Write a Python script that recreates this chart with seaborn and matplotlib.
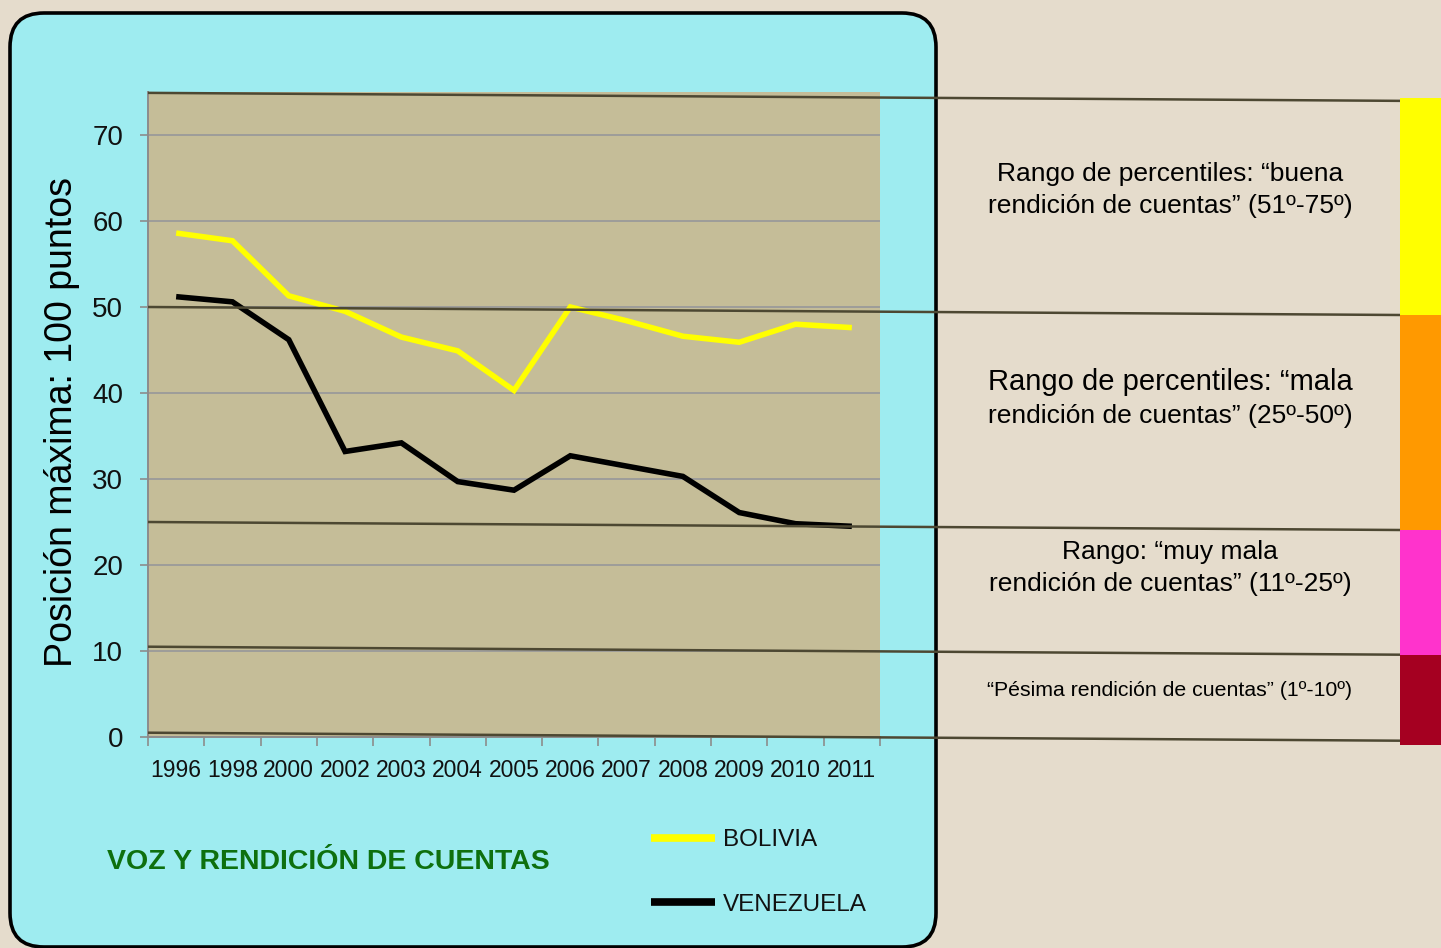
import numpy as np
import pandas as pd
import matplotlib
matplotlib.use("Agg")
import matplotlib.pyplot as plt
import seaborn as sns
from matplotlib.patches import FancyBboxPatch, Rectangle

# ---------------- data ----------------
years = ["1996", "1998", "2000", "2002", "2003", "2004", "2005",
         "2006", "2007", "2008", "2009", "2010", "2011"]
bolivia = [58.6, 57.7, 51.3, 49.5, 46.5, 44.9, 40.3, 50.0, 48.4, 46.6, 45.9, 48.0, 47.6]
venezuela = [51.2, 50.6, 46.2, 33.2, 34.2, 29.7, 28.7, 32.7, 31.5, 30.3, 26.1, 24.8, 24.5]
countries = ["BOLIVIA", "VENEZUELA"]
y_ticks = [0, 10, 20, 30, 40, 50, 60, 70]
# where the percentile divider lines meet the value axis
band_limits = [74.9, 50.0, 25.0, 10.5, 0.5]
band_colors = ["#ffff00", "#ff9900", "#ff33cc", "#a50021"]
band_texts = [
    ["Rango de percentiles: \u201cbuena", "rendición de cuentas\u201d (51º-75º)"],
    ["Rango de percentiles: \u201cmala", "rendición de cuentas\u201d (25º-50º)"],
    ["Rango: \u201cmuy mala", "rendición de cuentas\u201d (11º-25º)"],
    ["\u201cPésima rendición de cuentas\u201d (1º-10º)"],
]
title = "VOZ Y RENDICIÓN DE CUENTAS"
ylabel = "Posición máxima: 100 puntos"

df = pd.DataFrame({
    "Año": years * 2,
    "Valor": bolivia + venezuela,
    "País": [countries[0]] * len(years) + [countries[1]] * len(years),
})

# ---------------- figure ----------------
W, H = 1441, 948
SANS = ["Liberation Sans", "DejaVu Sans"]

fig = plt.figure(figsize=(W / 100, H / 100), dpi=100)
fig.patch.set_facecolor("#e5dccc")

# background layer in pixel coordinates
bg = fig.add_axes([0, 0, 1, 1], zorder=0)
bg.set_xlim(0, W)
bg.set_ylim(H, 0)
bg.axis("off")
box = FancyBboxPatch((10, 13), 926, 934,
                     boxstyle="round,pad=0,rounding_size=34",
                     fc="#9eecf0", ec="black", lw=2.6)
bg.add_patch(box)

# main chart
ax = fig.add_axes([148 / W, (H - 737) / H, 732 / W, 645 / H], zorder=5)
ax.set_facecolor("#c5bd98")
sns.lineplot(data=df, x="Año", y="Valor", hue="País",
             palette={"BOLIVIA": "#ffff00", "VENEZUELA": "#000000"},
             linewidth=4.0, sort=False, ax=ax)
for ln in ax.get_lines():
    ln.set_solid_capstyle("butt")
    ln.set_solid_joinstyle("miter")

ax.set_xlim(-0.5, len(years) - 0.5)
ax.set_ylim(0, 75)
ax.set_yticks(y_ticks)
ax.set_xticks(range(len(years)))
ax.set_xticklabels(years)
ax.set_xticks(np.arange(-0.5, len(years), 1.0), minor=True)
ax.set_xlabel("")
ax.set_ylabel(ylabel, fontsize=27, family=SANS, color="black")
ax.yaxis.set_label_coords(-0.093, 0.489)

for s in ["top", "right"]:
    ax.spines[s].set_visible(False)
for s in ["left", "bottom"]:
    ax.spines[s].set_color("#8c8c8c")
    ax.spines[s].set_linewidth(1.4)

ax.yaxis.grid(True, color="#9a9a9a", linewidth=1.3)
ax.xaxis.grid(False)
ax.set_axisbelow(True)

ax.tick_params(axis="y", which="major", length=6, width=1.2, color="#8c8c8c",
               pad=12, labelsize=20, labelcolor="#111111")
ax.tick_params(axis="x", which="major", length=0, pad=16,
               labelsize=16.5, labelcolor="#111111")
ax.tick_params(axis="x", which="minor", length=6.5, width=1.2, color="#8c8c8c")
for lab in ax.get_yticklabels() + ax.get_xticklabels():
    lab.set_family(SANS)

# legend
handles, labels = ax.get_legend_handles_labels()
ax.get_legend().remove()
leg = fig.legend(handles, labels, loc="upper left",
                 bbox_to_anchor=(651 / W, (H - 829) / H),
                 frameon=False, borderpad=0, borderaxespad=0,
                 handlelength=2.65, handletextpad=0.3, labelspacing=1.75,
                 prop={"family": SANS, "size": 17.5})
for ln in leg.get_lines():
    ln.set_linewidth(5.5)
for t in leg.get_texts():
    t.set_color("#111111")

# title
fig.text(107 / W, (H - 869) / H, title, fontsize=20.5, fontweight="bold",
         family=SANS, color="#0e700e", ha="left", va="baseline")

# overlay layer: percentile band lines, colour bands, texts
ov = fig.add_axes([0, 0, 1, 1], zorder=10)
ov.set_xlim(0, W)
ov.set_ylim(H, 0)
ov.axis("off")
ov.patch.set_alpha(0)

x_end = 1400
slant = 8
starts = []
for v in band_limits:
    dx, dy = ax.transData.transform((-0.5, v))
    starts.append((dx, H - dy))
ends = [(x_end, y0 + slant) for (_, y0) in starts]
for (x0, y0), (x1, y1) in zip(starts, ends):
    ov.plot([x0, x1], [y0, y1], color="#4d4832", lw=1.8, solid_capstyle="butt")

for i, c in enumerate(band_colors):
    top = ends[i][1] - (3 if i == 0 else 0)
    bot = ends[i + 1][1] + (4 if i == len(band_colors) - 1 else 0)
    ov.add_patch(Rectangle((x_end, top), W - x_end, bot - top, fc=c, ec="none"))

text_layout = [
    [(171, 19), (203, 19)],
    [(379, 21), (413, 19)],
    [(550, 19), (582, 19)],
    [(688, 15.3)],
]
for lines, lay in zip(band_texts, text_layout):
    for txt, (yc, fs) in zip(lines, lay):
        ov.text(1170, yc, txt, fontsize=fs, family=SANS, color="black",
                ha="center", va="center_baseline")

fig.savefig("out.png", dpi=100, facecolor=fig.get_facecolor())
